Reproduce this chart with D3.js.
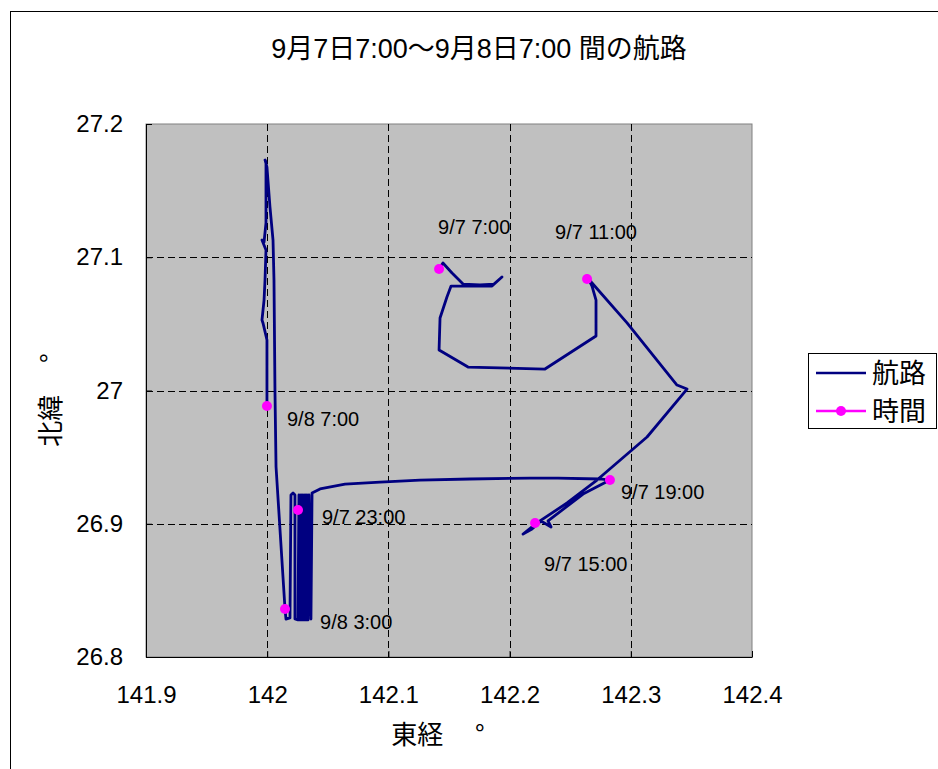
<!DOCTYPE html>
<html>
<head>
<meta charset="utf-8">
<script src="https://cdn.jsdelivr.net/npm/d3@7"></script>
<style>
  html, body { margin: 0; padding: 0; background: #fff; }
  svg { display: block; }
</style>
</head>
<body>
<svg id="chart" width="938" height="769"></svg>
<script>
// Ship track, 9/7 7:00 – 9/8 7:00 (longitude / latitude in degrees)
const trackLon = [
  142.1418, 142.1450, 142.1525, 142.1616, 142.1756, 142.1871, 142.1937, 142.1855,
  142.1673, 142.1517, 142.1483, 142.1426, 142.1418, 142.1657, 142.2292, 142.2713,
  142.2713, 142.2680, 142.2639, 142.2680, 142.2969, 142.3381, 142.3464, 142.3134,
  142.2721, 142.2474, 142.2226, 142.2111, 142.2185, 142.2259, 142.2342, 142.2317,
  142.2606, 142.2828, 142.2746, 142.2399, 142.2168, 142.1673, 142.1261, 142.0931,
  142.0642, 142.0436, 142.0370, 142.0361, 142.0345, 142.0337, 142.0328, 142.0320,
  142.0312, 142.0304, 142.0295, 142.0287, 142.0279, 142.0271, 142.0262, 142.0254,
  142.0229, 142.0229, 142.0213, 142.0196, 142.0188, 142.0155, 142.0147, 142.0073,
  142.0064, 142.0056, 142.0048, 142.0023, 141.9998, 141.9982, 141.9990, 141.9990,
  141.9974, 141.9957, 141.9990, 141.9982, 141.9974, 141.9957, 141.9965, 141.9998,
  141.9998, 141.9998
];
const trackLat = [
  27.0912, 27.0957, 27.0882, 27.0799, 27.0792, 27.0799, 27.0852, 27.0784,
  27.0784, 27.0784, 27.0702, 27.0544, 27.0304, 27.0176, 27.0161, 27.0409,
  27.0679, 27.0784, 27.0859, 27.0807, 27.0507, 27.0041, 27.0011, 26.9651,
  26.9328, 26.9156, 26.9006, 26.8923, 26.8961, 26.9021, 26.8976, 26.9021,
  26.9223, 26.9328, 26.9336, 26.9343, 26.9343, 26.9336, 26.9328, 26.9313,
  26.9298, 26.9261, 26.9231, 26.8285, 26.9216, 26.8278, 26.9216, 26.8278,
  26.9216, 26.8278, 26.9216, 26.8278, 26.9216, 26.8278, 26.9216, 26.8278,
  26.8285, 26.9216, 26.9231, 26.9216, 26.8293, 26.8285, 26.8360, 26.9426,
  27.0004, 27.0829, 27.1129, 27.1377, 27.1677, 27.1730, 27.1715, 27.1257,
  27.1114, 27.1129, 27.1054, 27.0829, 27.0679, 27.0529, 27.0507, 27.0379,
  26.9981, 26.9884
];

// Positions at each four-hour mark
const timeLabels = ["9/7 7:00", "9/7 11:00", "9/7 15:00", "9/7 19:00", "9/7 23:00", "9/8 3:00", "9/8 7:00"];
const timeLon = [142.1418, 142.2639, 142.2210, 142.2828, 142.0254, 142.0147, 141.9998];
const timeLat = [27.0912, 27.0837, 26.9006, 26.9328, 26.9103, 26.8360, 26.9884];

// Axis ticks
const lonTicks = [141.9, 142.0, 142.1, 142.2, 142.3, 142.4];
const lonTickLabels = ["141.9", "142", "142.1", "142.2", "142.3", "142.4"];
const latTicks = [26.8, 26.9, 27.0, 27.1, 27.2];
const latTickLabels = ["26.8", "26.9", "27", "27.1", "27.2"];

const titleText = "9月7日7:00～9月8日7:00 間の航路";
const seriesNames = ["航路", "時間"];

// Hand-placed label offsets (px) from each time marker
const labelOffsets = [[-1, -35], [-32, -40], [9, 48], [11, 19], [24, 14], [35, 20], [20, 20]];

const NUM_FONT = "'Liberation Sans', Arial, 'Noto Sans CJK JP', sans-serif";
const CJK_FONT = "'Noto Sans CJK JP', 'Liberation Sans', sans-serif";
const TRACK_COLOR = "#000080";
const MARK_COLOR = "#ff00ff";

const svg = d3.select("#chart");
const plot = { left: 146, top: 124, right: 752, bottom: 657 };

const x = d3.scaleLinear().domain([141.9, 142.4]).range([plot.left, plot.right]);
const y = d3.scaleLinear().domain([26.8, 27.2]).range([plot.bottom, plot.top]);

// Chart frame
svg.append("rect")
  .attr("x", 10.5).attr("y", 11.5).attr("width", 1000).attr("height", 1000)
  .attr("fill", "#fff").attr("stroke", "#000").attr("stroke-width", 1);

// Title
svg.append("text")
  .attr("x", 479).attr("y", 58)
  .attr("text-anchor", "middle")
  .attr("font-family", NUM_FONT)
  .attr("font-size", 27)
  .attr("fill", "#000")
  .text(titleText);

// Plot area
svg.append("rect")
  .attr("x", plot.left).attr("y", plot.top)
  .attr("width", plot.right - plot.left).attr("height", plot.bottom - plot.top)
  .attr("fill", "#c0c0c0").attr("stroke", "#808080").attr("stroke-width", 1);

// Dashed grid
const grid = svg.append("g").attr("stroke", "#000").attr("stroke-width", 1).attr("stroke-dasharray", "7,4");
grid.selectAll("line.v").data(lonTicks.slice(1, -1)).join("line")
  .attr("x1", d => Math.round(x(d)) + 0.5).attr("x2", d => Math.round(x(d)) + 0.5)
  .attr("y1", plot.top).attr("y2", plot.bottom);
grid.selectAll("line.h").data(latTicks.slice(1, -1)).join("line")
  .attr("y1", d => Math.round(y(d)) + 0.5).attr("y2", d => Math.round(y(d)) + 0.5)
  .attr("x1", plot.left).attr("x2", plot.right);

// Axes
const xAxis = d3.axisBottom(x)
  .tickValues(lonTicks)
  .tickFormat((d, i) => lonTickLabels[i])
  .tickSizeInner(-6).tickSizeOuter(0).tickPadding(29);
const gx = svg.append("g").attr("transform", `translate(0,${plot.bottom})`).call(xAxis);
gx.selectAll("text").attr("font-family", NUM_FONT).attr("font-size", 24).attr("fill", "#000");
gx.selectAll("line, path").attr("stroke", "#000");

const yAxis = d3.axisLeft(y)
  .tickValues(latTicks)
  .tickFormat((d, i) => latTickLabels[i])
  .tickSizeInner(-6).tickSizeOuter(0).tickPadding(23);
const gy = svg.append("g").attr("transform", `translate(${plot.left},0)`).call(yAxis);
gy.selectAll("text").attr("font-family", NUM_FONT).attr("font-size", 24).attr("fill", "#000");
gy.selectAll("line, path").attr("stroke", "#000");

// Axis titles
svg.append("text")
  .attr("x", 438).attr("y", 744)
  .attr("text-anchor", "middle")
  .attr("font-family", CJK_FONT).attr("font-size", 26).attr("fill", "#000")
  .text("東経　  °");
svg.append("text")
  .attr("transform", "translate(60,400) rotate(-90)")
  .attr("text-anchor", "middle")
  .attr("font-family", CJK_FONT).attr("font-size", 26).attr("fill", "#000")
  .text("北緯　 °");

// Track line
const trackData = trackLon.map((lon, i) => [lon, trackLat[i]]);
const line = d3.line().x(d => x(d[0])).y(d => y(d[1]));
svg.append("path")
  .datum(trackData)
  .attr("d", line)
  .attr("fill", "none")
  .attr("stroke", TRACK_COLOR)
  .attr("stroke-width", 2.8)
  .attr("stroke-linejoin", "round")
  .attr("stroke-linecap", "round");

// Time markers and their labels
const timeData = timeLabels.map((t, i) => ({ label: t, lon: timeLon[i], lat: timeLat[i], off: labelOffsets[i] }));
svg.append("g").selectAll("circle").data(timeData).join("circle")
  .attr("cx", d => x(d.lon)).attr("cy", d => y(d.lat)).attr("r", 5)
  .attr("fill", MARK_COLOR);
svg.append("g").selectAll("text").data(timeData).join("text")
  .attr("x", d => x(d.lon) + d.off[0]).attr("y", d => y(d.lat) + d.off[1])
  .attr("font-family", NUM_FONT).attr("font-size", 20).attr("fill", "#000")
  .text(d => d.label);

// Legend
const lg = svg.append("g");
lg.append("rect")
  .attr("x", 808.5).attr("y", 353.5).attr("width", 128).attr("height", 75)
  .attr("fill", "#fff").attr("stroke", "#000").attr("stroke-width", 1);
const legendRows = [
  { name: seriesNames[0], color: TRACK_COLOR, marker: false, cy: 373 },
  { name: seriesNames[1], color: MARK_COLOR, marker: true, cy: 411 }
];
legendRows.forEach(r => {
  lg.append("line").attr("x1", 816).attr("x2", 866).attr("y1", r.cy).attr("y2", r.cy)
    .attr("stroke", r.color).attr("stroke-width", 2.5);
  if (r.marker) lg.append("circle").attr("cx", 841).attr("cy", r.cy).attr("r", 5).attr("fill", r.color);
  lg.append("text").attr("x", 872).attr("y", r.cy + 10)
    .attr("font-family", CJK_FONT).attr("font-size", 27).attr("fill", "#000")
    .text(r.name);
});
</script>
</body>
</html>
